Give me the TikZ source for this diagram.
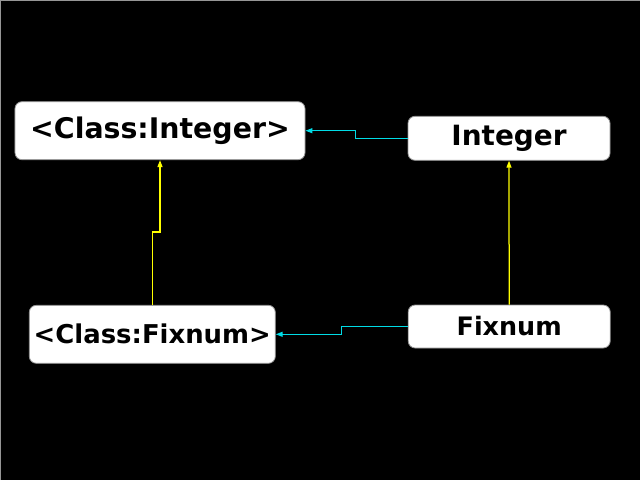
\documentclass[tikz,border=0pt]{standalone}
\usepackage{fontspec}
\setmainfont{DejaVu Sans}
\usetikzlibrary{arrows.meta}
\definecolor{linkcyan}{RGB}{0,220,230}
\definecolor{linkyellow}{RGB}{255,255,0}
\definecolor{edgegray}{RGB}{150,150,150}
\tikzset{
  classbox/.style={draw=edgegray, line width=0.8bp, fill=white, rounded corners=7bp, inner sep=0pt, font=\bfseries, text=black},
  cyanlink/.style={draw=linkcyan, line width=1.25bp, -{Triangle[length=7bp,width=5bp]}},
  yellowlink/.style={draw=linkyellow, line width=1.25bp, -{Triangle[length=7bp,width=5bp]}}
}
\begin{document}
\begin{tikzpicture}[x=1bp,y=-1bp]
  \fill[black] (0,0) rectangle (640,480);
  \useasboundingbox (0,0) rectangle (640,480);
  \draw[edgegray, line width=1bp] (0.5,480) -- (0.5,0.5) -- (640,0.5);
  \node[classbox, minimum width=290bp, minimum height=58bp, font=\bfseries\fontsize{28.5}{30}\selectfont] (ci) at (160,130.7) {<Class:Integer>};
  \node[classbox, minimum width=202bp, minimum height=44bp, font=\bfseries\fontsize{28}{30}\selectfont] (in) at (509,138.3) {Integer};
  \node[classbox, minimum width=246bp, minimum height=58bp, font=\bfseries\fontsize{26}{30}\selectfont] (cf) at (152.3,334.3) {<Class:Fixnum>};
  \node[classbox, minimum width=202bp, minimum height=43bp, font=\bfseries\fontsize{25.5}{30}\selectfont] (fx) at (509.2,326.5) {Fixnum};
  \draw[cyanlink] (in.west) -- ++(-52,0) |- (ci.east);
  \draw[cyanlink] (fx.west) -- ++(-66,0) |- (cf.east);
  \draw[yellowlink] (cf.north) -- ++(0,-73) -| (ci.south);
  \draw[yellowlink] (fx.north) -- (in.south);
\end{tikzpicture}
\end{document}
